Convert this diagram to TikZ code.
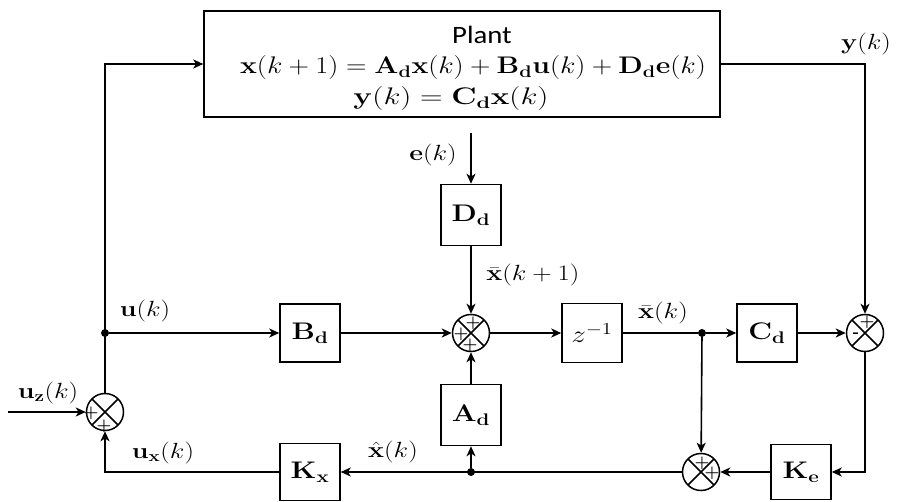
\RequirePackage{fix-cm}
\documentclass[tikz,border=0pt]{standalone}
\usepackage[no-math]{fontspec}
\usepackage{graphicx}
\newfontfamily\carl{Carlito}
\usetikzlibrary{arrows.meta}
\newcommand{\wid}[1]{\scalebox{1.22}[1]{#1}}
\begin{document}
\begin{tikzpicture}[x=1pt,y=-1pt,
 ln/.style={line width=1.6pt},
 arr/.style={line width=1.6pt, -{Stealth[length=10pt,width=9pt,inset=2.8pt]}},
 blk/.style={draw, line width=1.5pt, minimum width=60pt, minimum height=58pt, inner sep=0, font=\fontsize{24}{28}\selectfont},
 sumj/.style={circle, draw, line width=1.5pt, minimum size=37pt, inner sep=0,
   path picture={\draw[line width=1.5pt] (path picture bounding box.north west) -- (path picture bounding box.south east)
   (path picture bounding box.north east) -- (path picture bounding box.south west);}},
 sgn/.style={font=\fontsize{17}{17}\selectfont\boldmath, inner sep=0},
 lbl/.style={font=\fontsize{22}{26}\selectfont, inner sep=0},
 eqf/.style={font=\fontsize{24}{28}\selectfont, inner sep=0},
 dotn/.style={circle, fill, minimum size=8pt, inner sep=0}]
\useasboundingbox (0,0) rectangle (897,502);
% plant
\node[draw, line width=1.5pt, minimum width=516pt, minimum height=106pt, inner sep=0] (plant) at (462,64) {};
\node[font=\fontsize{25}{28}\selectfont\carl, inner sep=0] (ptitle) at (482,35) {\scalebox{1.15}[1]{Plant}};
\node[eqf] (eq1) at (473,68) {\scalebox{1.18}[1]{$\mathbf{x}(k+1)=\mathbf{A}_{\mathbf{d}}\mathbf{x}(k)+\mathbf{B}_{\mathbf{d}}\mathbf{u}(k)+\mathbf{D}_{\mathbf{d}}\mathbf{e}(k)$}};
\node[eqf] (eq2) at (451,99) {\scalebox{1.3}[1]{$\mathbf{y}(k)=\mathbf{C}_{\mathbf{d}}\mathbf{x}(k)$}};
% junctions
\node[sumj] (s1) at (105,412) {};
\node[sumj] (s2) at (471,333) {};
\node[sumj] (s3) at (865,333) {};
\node[sumj] (s4) at (701,472) {};
% blocks
\node[blk] (Bd) at (310,333) {\wid{$\mathbf{B}_{\mathbf{d}}$}};
\node[blk, minimum height=61pt] (Dd) at (471,215) {\wid{$\mathbf{D}_{\mathbf{d}}$}};
\node[blk, minimum height=61pt] (Ad) at (471,415) {\wid{$\mathbf{A}_{\mathbf{d}}$}};
\node[blk, minimum height=59pt] (zi) at (592,333) {\wid{$z^{-1}$}};
\node[blk] (Cd) at (767,333) {\wid{$\mathbf{C}_{\mathbf{d}}$}};
\node[blk, minimum height=57pt] (Kx) at (310,472) {\wid{$\mathbf{K}_{\mathbf{x}}$}};
\node[blk, minimum height=55pt] (Ke) at (801,472) {\wid{$\mathbf{K}_{\mathbf{e}}$}};
% dots
\node[dotn] (d1) at (105,333) {};
\node[dotn] (d2) at (702,333) {};
\node[dotn] (d3) at (471,472) {};
\coordinate (uzin) at (8,412);
\coordinate (ein) at (471,133);
% connectors
\draw[arr] (uzin) -- (s1.west);
\draw[arr] (s1.north) |- (plant.west);
\draw[arr] (d1) -- (Bd);
\draw[arr] (Bd) -- (s2);
\draw[arr] (ein) -- (Dd);
\draw[arr] (Dd) -- (s2);
\draw[arr] (s2) -- (zi);
\draw[ln] (zi) -- (d2);
\draw[arr] (d2) -- (Cd);
\draw[arr] (Cd) -- (s3);
\draw[arr] (plant.east) -| (s3.north);
\draw[arr] (s3.south) |- (Ke.east);
\draw[arr] (d2) -- (s4);
\draw[arr] (Ke) -- (s4);
\draw[arr] (s4) -- (Kx);
\draw[arr] (d3) -- (Ad);
\draw[arr] (Ad) -- (s2);
\draw[arr] (Kx.west) -| (s1.south);
% signs
\node[sgn] (p1a) at (91,413) {$+$};
\node[sgn] (p1b) at (104,426) {$+$};
\node[sgn] (p2a) at (461,334) {$+$};
\node[sgn] (p2b) at (473,323) {$+$};
\node[sgn] (p2c) at (470,345) {$+$};
\node[sgn] (p3a) at (867,322) {$+$};
\node[sgn] (p3b) at (856,335) {\bfseries -};
\node[sgn] (p4a) at (702,463) {$+$};
\node[sgn] (p4b) at (712,473) {$+$};
% labels
\node[lbl] (lu) at (145,311) {\wid{$\mathbf{u}(k)$}};
\node[lbl] (luz) at (48,393) {\wid{$\mathbf{u}_{\mathbf{z}}(k)$}};
\node[lbl] (lux) at (163,453) {\wid{$\mathbf{u}_{\mathbf{x}}(k)$}};
\node[lbl] (lxh) at (393,452) {\wid{$\hat{\mathbf{x}}(k)$}};
\node[lbl] (lxb1) at (533,275) {\wid{$\bar{\mathbf{x}}(k+1)$}};
\node[lbl] (lxb) at (663,313) {\wid{$\bar{\mathbf{x}}(k)$}};
\node[lbl] (le) at (433,155) {\wid{$\mathbf{e}(k)$}};
\node[lbl] (ly) at (866,44) {\wid{$\mathbf{y}(k)$}};
\end{tikzpicture}
\end{document}
